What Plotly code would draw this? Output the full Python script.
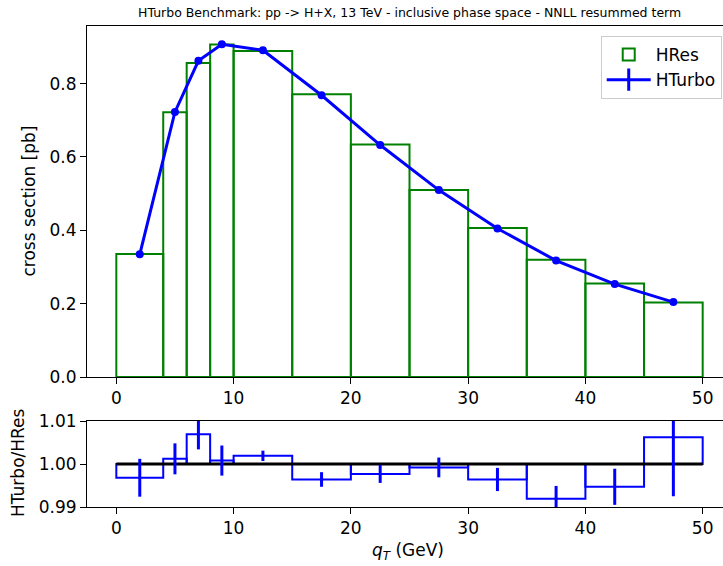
import plotly.graph_objects as go

# bin edges (GeV)
bin_edges = [0, 4, 6, 8, 10, 15, 20, 25, 30, 35, 40, 45, 50]
# HRes cross section per bin [pb]
hres = [0.3355, 0.7218, 0.8563, 0.9064, 0.8891, 0.7709, 0.6340, 0.5100, 0.4064, 0.3200, 0.2547, 0.2029]
# HTurbo cross section per bin [pb]
hturbo = [0.3344, 0.7227, 0.8622, 0.9071, 0.8908, 0.7681, 0.6325, 0.5096, 0.4049, 0.3174, 0.2534, 0.2042]
hturbo_err = [0.0015, 0.0026, 0.0030, 0.0032, 0.0010, 0.0013, 0.0013, 0.0012, 0.0011, 0.0010, 0.0011, 0.0028]
# ratio HTurbo / HRes and its uncertainty
ratio = [0.9968, 1.0012, 1.0069, 1.0008, 1.0019, 0.9964, 0.9977, 0.9992, 0.9964, 0.9919, 0.9947, 1.0062]
ratio_err = [0.0044, 0.0036, 0.0035, 0.0035, 0.0012, 0.0017, 0.0021, 0.0023, 0.0027, 0.0030, 0.0042, 0.0137]

x_ticks = [0, 10, 20, 30, 40, 50]
y_ticks_top = [0.0, 0.2, 0.4, 0.6, 0.8]
y_ticks_bot = [0.99, 1.00, 1.01]

centers = [(a + b) / 2 for a, b in zip(bin_edges[:-1], bin_edges[1:])]
widths = [b - a for a, b in zip(bin_edges[:-1], bin_edges[1:])]

GREEN = "#008000"
BLUE = "#0000ff"
FONT = "DejaVu Sans"
FS = 17

fig = go.Figure()

# HRes histogram (top)
fig.add_trace(go.Bar(
    x=centers, y=hres, width=widths, name="HRes",
    marker=dict(color="rgba(0,0,0,0)", line=dict(color=GREEN, width=2)),
    xaxis="x", yaxis="y", showlegend=True,
))
# HTurbo line (top)
fig.add_trace(go.Scatter(
    x=centers, y=hturbo, mode="lines+markers", name="HTurbo",
    line=dict(color=BLUE, width=3), marker=dict(color=BLUE, size=8),
    error_y=dict(type="data", array=hturbo_err, color=BLUE, thickness=3, width=0),
    xaxis="x", yaxis="y", showlegend=False,
))
# legend-only entry for HTurbo (line + vertical error bar)
fig.add_trace(go.Scatter(
    x=[None], y=[None], mode="lines+markers", name="HTurbo",
    line=dict(color=BLUE, width=3),
    marker=dict(symbol="line-ns", size=16, color=BLUE, line=dict(color=BLUE, width=3)),
    xaxis="x", yaxis="y", showlegend=True,
))

# ratio histogram (bottom)
fig.add_trace(go.Bar(
    x=centers, y=[r - 1.0 for r in ratio], base=1.0, width=widths,
    marker=dict(color="rgba(0,0,0,0)", line=dict(color=BLUE, width=2)),
    xaxis="x2", yaxis="y2", showlegend=False,
))
# reference line at 1
fig.add_trace(go.Scatter(
    x=[bin_edges[0], bin_edges[-1]], y=[1.0, 1.0], mode="lines",
    line=dict(color="black", width=3),
    xaxis="x2", yaxis="y2", showlegend=False,
))
# ratio error bars
fig.add_trace(go.Scatter(
    x=centers, y=ratio, mode="markers",
    marker=dict(color=BLUE, size=1, opacity=0),
    error_y=dict(type="data", array=ratio_err, color=BLUE, thickness=3, width=0),
    xaxis="x2", yaxis="y2", showlegend=False,
))

W, H = 723, 566
L, R, T, B = 87, 0, 26, 59
plot_h = H - T - B  # 481
top_bottom_px = 377
bot_top_px = 421
dom_top = [(H - B - top_bottom_px) / plot_h, 1.0]
dom_bot = [0.0, (H - B - bot_top_px) / plot_h]

axis_common = dict(
    showline=True, linecolor="black", linewidth=1,
    ticks="outside", ticklen=6, tickwidth=1, tickcolor="black",
    showgrid=False, zeroline=False,
    tickfont=dict(family=FONT, size=FS, color="black"),
)

px_per_unit = 645 / 55.0
xmax = -2.5 + (W - L - R) / px_per_unit

fig.update_layout(
    width=W, height=H,
    margin=dict(l=L, r=R, t=T, b=B),
    paper_bgcolor="white", plot_bgcolor="white",
    barmode="overlay",
    font=dict(family=FONT, color="black"),
    xaxis=dict(domain=[0, 1], range=[-2.5, xmax], anchor="y",
               tickvals=x_ticks, mirror=True, **axis_common),
    yaxis=dict(domain=dom_top, range=[0, 0.957], anchor="x",
               tickvals=y_ticks_top, tickformat=".1f", **axis_common),
    xaxis2=dict(domain=[0, 1], range=[-2.5, xmax], anchor="y2",
                tickvals=x_ticks, mirror=True, **axis_common),
    yaxis2=dict(domain=dom_bot, range=[0.99, 1.01], anchor="x2",
                tickvals=y_ticks_bot, tickformat=".2f", **axis_common),
    legend=dict(
        x=0.998, y=(H - B - 36) / plot_h, xanchor="right", yanchor="top",
        bgcolor="white", bordercolor="#cccccc", borderwidth=1,
        font=dict(family=FONT, size=FS, color="black"),
        traceorder="normal", itemwidth=44,
    ),
    showlegend=True,
    annotations=[
        dict(text="HTurbo Benchmark: pp -> H+X, 13 TeV - inclusive phase space - NNLL resummed term",
             xref="paper", yref="paper", x=(409.6 - L) / (W - L - R), y=(H - B - 12) / plot_h,
             xanchor="center", yanchor="middle", showarrow=False,
             font=dict(family=FONT, size=12.5, color="black")),
        dict(text="cross section [pb]", textangle=-90,
             xref="paper", yref="paper", x=(28 - L) / (W - L - R), y=(dom_top[0] + dom_top[1]) / 2,
             xanchor="center", yanchor="middle", showarrow=False,
             font=dict(family=FONT, size=FS, color="black")),
        dict(text="HTurbo/HRes", textangle=-90,
             xref="paper", yref="paper", x=(18 - L) / (W - L - R), y=(H - B - 463) / plot_h,
             xanchor="center", yanchor="middle", showarrow=False,
             font=dict(family=FONT, size=FS, color="black")),
        dict(text="<i>q</i><sub><i>T</i></sub> (GeV)",
             xref="paper", yref="paper", x=(408 - L) / (W - L - R), y=(H - B - 551) / plot_h,
             xanchor="center", yanchor="middle", showarrow=False,
             font=dict(family=FONT, size=FS, color="black")),
    ],
)

fig.write_html("out.html")
